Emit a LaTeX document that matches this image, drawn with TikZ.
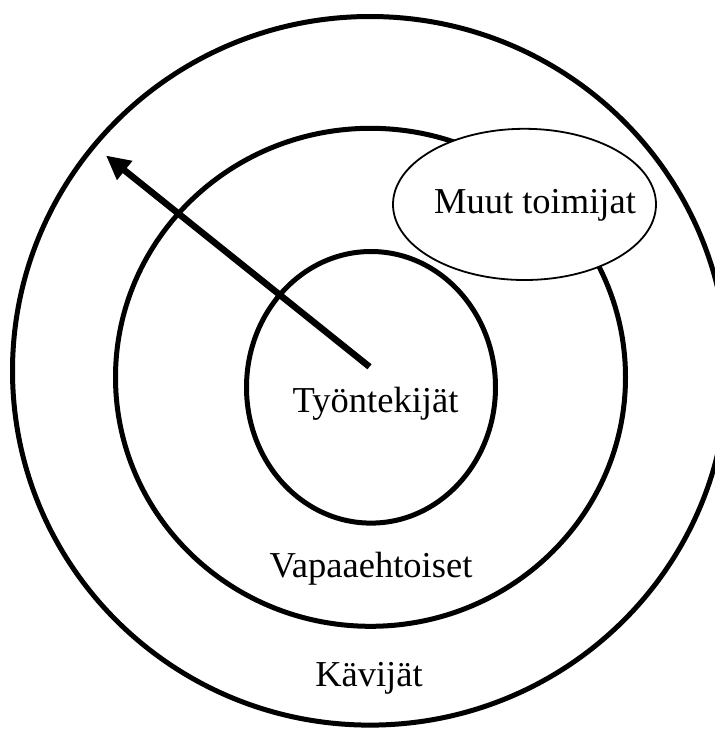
\documentclass[tikz,border=0pt]{standalone}
\usepackage{fontspec}
\setmainfont{Liberation Serif}
\usetikzlibrary{arrows.meta}
\tikzset{
  ring/.style={draw=black, line width=5pt},
  label/.style={font=\fontsize{36.5}{40}\selectfont, anchor=base, inner sep=0pt},
  pointer/.style={line width=6.5pt, -{Triangle[length=24pt,width=23pt]}}
}
\begin{document}
\begin{tikzpicture}[x=1pt,y=-1pt]
\useasboundingbox (0,0) rectangle (715,729);
\clip (0,0) rectangle (715,729);
\fill[white] (0,0) rectangle (715,729);
% rings
\draw[ring] (370,370.8) ellipse [x radius=357.5, y radius=354.3];
\draw[ring] (370.5,377.3) ellipse [x radius=255, y radius=249];
\draw[ring] (371,387.3) ellipse [x radius=124.5, y radius=135.8];
% arrow
\coordinate (tail) at (369.5,366.8);
\coordinate (tip) at (106,155.5);
\draw[pointer] (tail) -- (tip);
% other actors
\draw[fill=white, line width=1.8pt] (524.5,204.4) ellipse [x radius=131.5, y radius=75.6];
% labels
\node[label] (muut) at (535,213) {Muut toimijat};
\node[label] (tyo) at (375.5,412.5) {Työntekijät};
\node[label] (vapaa) at (371,577) {Vapaaehtoiset};
\node[label] (kavijat) at (369,686.5) {Kävijät};
\end{tikzpicture}
\end{document}
